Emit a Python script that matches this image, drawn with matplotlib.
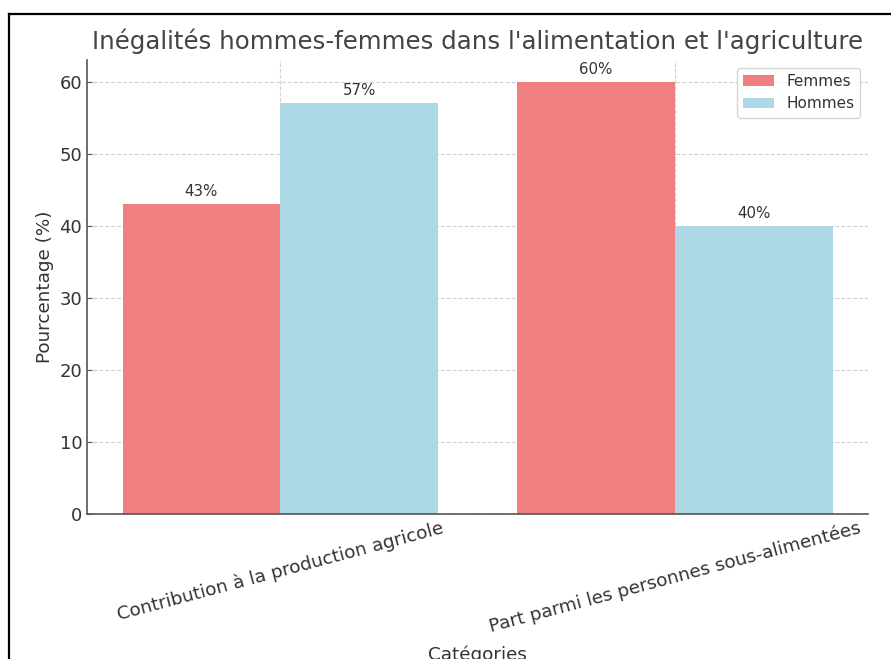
import matplotlib
matplotlib.use("Agg")
import matplotlib.pyplot as plt
import numpy as np
from matplotlib.lines import Line2D

categories = ["Contribution à la production agricole",
              "Part parmi les personnes sous-alimentées"]
femmes = [43, 60]
hommes = [57, 40]
series_names = ["Femmes", "Hommes"]
title = "Inégalités hommes-femmes dans l'alimentation et l'agriculture"
xlabel = "Catégories"
ylabel = "Pourcentage (%)"

TXT = "#333333"
plt.rcParams["font.family"] = ["DejaVu Sans"]

fig = plt.figure(figsize=(8.91, 6.59), dpi=100)
ax = fig.add_axes([87/891, 145/659, (868-87)/891, (514-60)/659])

x = np.arange(len(categories))
w = 0.4
b1 = ax.bar(x - w/2, femmes, w, color="lightcoral", label=series_names[0], zorder=2)
b2 = ax.bar(x + w/2, hommes, w, color="lightblue", label=series_names[1], zorder=2)

for bars in (b1, b2):
    for r in bars:
        h = r.get_height()
        ax.annotate(f"{h:.0f}%", (r.get_x() + r.get_width()/2, h),
                    xytext=(0, 3.5), textcoords="offset points",
                    ha="center", va="bottom", fontsize=10.8, color=TXT)

ax.set_xticks(x)
ax.set_xticklabels(categories, rotation=15, ha="center", fontsize=13.2, color=TXT)
ax.tick_params(axis="y", labelsize=13, labelcolor=TXT, color="#555555", direction="in")
ax.tick_params(axis="x", color="#555555", direction="in")
ax.set_title(title, fontsize=17.6, color="#444444", pad=8)
ax.set_ylabel(ylabel, fontsize=13.2, color=TXT)
ax.set_xlabel(xlabel, fontsize=13.2, color=TXT, labelpad=7)

ax.set_axisbelow(True)
ax.grid(True, linestyle="--", color="#cccccc", linewidth=0.8, alpha=0.9)
for s in ("top", "right"):
    ax.spines[s].set_visible(False)
for s in ("left", "bottom"):
    ax.spines[s].set_color("#555555")
    ax.spines[s].set_linewidth(1.2)

leg = ax.legend(loc="upper right", fontsize=11, frameon=True, fancybox=True)
leg.get_frame().set_edgecolor("#cccccc")
for t in leg.get_texts():
    t.set_color(TXT)

# screenshot frame lines
H = 659.0
fig.add_artist(Line2D([9/891, 9/891], [0, 1 - 14/H], transform=fig.transFigure,
                      color="black", linewidth=1.6))
fig.add_artist(Line2D([9/891, 1], [1 - 14/H, 1 - 14/H], transform=fig.transFigure,
                      color="black", linewidth=1.6))

fig.savefig("out.png", dpi=100)
